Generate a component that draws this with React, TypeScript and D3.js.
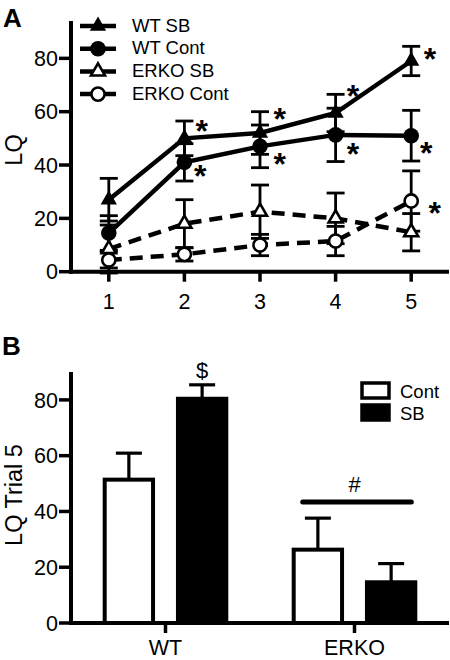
import React from "react";
import * as d3 from "d3";

// ---------- Panel A data ----------
const trials = [1, 2, 3, 4, 5];
const wtSB = [27, 50, 52, 59.5, 79];
const wtSBErr = [8, 6.5, 8, 7, 5.5];
const wtCont = [14.5, 41, 47, 51.3, 51];
const wtContErr = [6.5, 7, 8, 10, 9.5];
const erkoSB = [8.5, 18, 22.5, 20, 14.8];
const erkoSBErr = [9, 9, 10, 9.5, 7];
const erkoCont = [4.4, 6.5, 10, 11.5, 26.5];
const erkoContErr = [3, 2.5, 4, 5.5, 11.3];
const yTicksA = [0, 20, 40, 60, 80];
const legendA = ["WT SB", "WT Cont", "ERKO SB", "ERKO Cont"];
// asterisk annotation positions [trial, LQ]
const asterisks: [number, number][] = [
  [2.23, 55], [2.21, 38.1], [3.26, 59.4], [3.26, 42.5], [4.23, 68.1],
  [4.23, 46.3], [5.25, 81.9], [5.2, 46.9], [5.31, 24.4],
];

// ---------- Panel B data ----------
const groupsB = ["WT", "ERKO"];
const treatB = ["Cont", "SB"];
const contB = [51.4, 26.3];
const contBErr = [9.5, 11.3];
const sbB = [80.4, 14.6];
const sbBErr = [5, 6.7];
const yTicksB = [0, 20, 40, 60, 80];

const FONT = "'Liberation Sans', Arial, Helvetica, sans-serif";
const TICK_FS = 21.5;
const TITLE_FS = 23.5;

type Series = {
  name: string;
  vals: number[];
  errs: number[];
  shape: "tri" | "circ";
  filled: boolean;
  dashed: boolean;
};

const series: Series[] = [
  { name: legendA[2], vals: erkoSB, errs: erkoSBErr, shape: "tri", filled: false, dashed: true },
  { name: legendA[3], vals: erkoCont, errs: erkoContErr, shape: "circ", filled: false, dashed: true },
  { name: legendA[1], vals: wtCont, errs: wtContErr, shape: "circ", filled: true, dashed: false },
  { name: legendA[0], vals: wtSB, errs: wtSBErr, shape: "tri", filled: true, dashed: false },
];
const legendOrder = [3, 2, 0, 1];

function Marker({ x, y, s }: { x: number; y: number; s: Series }) {
  if (s.shape === "circ") {
    return s.filled ? (
      <circle cx={x} cy={y} r={7.8} fill="#000" />
    ) : (
      <circle cx={x} cy={y} r={6.6} fill="#fff" stroke="#000" strokeWidth={2.6} />
    );
  }
  const p = s.filled
    ? d3.symbol(d3.symbolTriangle, 115)()
    : d3.symbol(d3.symbolTriangle, 85)();
  return s.filled ? (
    <path d={p || ""} transform={`translate(${x},${y})`} fill="#000" />
  ) : (
    <path d={p || ""} transform={`translate(${x},${y})`} fill="#fff" stroke="#000" strokeWidth={2.6} strokeLinejoin="miter" />
  );
}

export default function App() {
  // Panel A scales
  const xA = d3.scaleLinear().domain([0.5, 5.5]).range([71, 449]);
  const yA = d3.scaleLinear().domain([0, 94]).range([271.7, 21]);
  const line = d3
    .line<number>()
    .x((_, i) => xA(trials[i]))
    .y((d) => yA(d));

  // Panel B scales
  const xB = d3.scaleBand<string>().domain(groupsB).range([71, 449]).padding(0);
  const xSub = d3
    .scaleBand<string>()
    .domain(treatB)
    .range([0, xB.bandwidth()])
    .paddingInner(0.34)
    .paddingOuter(0.46);
  const yB = d3.scaleLinear().domain([0, 90]).range([623, 372]);

  const capA = 9;
  const capB = 13;

  return (
    <svg
      width={450}
      height={660}
      style={{ position: "absolute", left: 0, top: 0, background: "#fff" }}
      fontFamily={FONT}
    >
      <rect x={0} y={0} width={450} height={660} fill="#fff" />
      {/* ================= Panel A ================= */}
      <text x={3} y={27} fontSize={26} fontWeight="bold">A</text>
      <text transform="translate(21.5,150) rotate(-90)" textAnchor="middle" fontSize={TITLE_FS}>LQ</text>

      {/* axes */}
      <line x1={71} x2={71} y1={yA(94)} y2={yA(0) + 2} stroke="#000" strokeWidth={4} />
      <line x1={69} x2={449} y1={yA(0)} y2={yA(0)} stroke="#000" strokeWidth={4} />
      {yTicksA.map((t) => (
        <g key={t}>
          <line x1={59} x2={71} y1={yA(t)} y2={yA(t)} stroke="#000" strokeWidth={3.5} />
          <text x={58} y={yA(t)} dy="0.36em" textAnchor="end" fontSize={TICK_FS}>{t}</text>
        </g>
      ))}
      {trials.map((t) => (
        <g key={t}>
          <line x1={xA(t)} x2={xA(t)} y1={yA(0)} y2={yA(0) + 10} stroke="#000" strokeWidth={3.5} />
          <text x={xA(t)} y={308.5} textAnchor="middle" fontSize={TICK_FS}>{t}</text>
        </g>
      ))}

      {/* error bars */}
      {series.map((s) =>
        s.vals.map((v, i) => {
          const x = xA(trials[i]);
          return (
            <g key={s.name + i} stroke="#000" strokeWidth={2.8}>
              <line x1={x} x2={x} y1={yA(v - s.errs[i])} y2={yA(v + s.errs[i])} />
              <line x1={x - capA} x2={x + capA} y1={yA(v + s.errs[i])} y2={yA(v + s.errs[i])} />
              <line x1={x - capA} x2={x + capA} y1={yA(v - s.errs[i])} y2={yA(v - s.errs[i])} />
            </g>
          );
        })
      )}

      {/* lines */}
      {series.map((s) => (
        <path
          key={s.name}
          d={line(s.vals) || ""}
          fill="none"
          stroke="#000"
          strokeWidth={4.5}
          strokeDasharray={s.dashed ? "13,8" : undefined}
        />
      ))}

      {/* markers */}
      {series.map((s) =>
        s.vals.map((v, i) => <Marker key={s.name + "m" + i} x={xA(trials[i])} y={yA(v)} s={s} />)
      )}

      {/* asterisks */}
      {asterisks.map(([t, v], i) => (
        <text key={i} x={xA(t)} y={yA(v) + 17} textAnchor="middle" fontSize={32} fontWeight="bold">*</text>
      ))}

      {/* legend A */}
      {legendOrder.map((si, r) => {
        const s = series[si];
        const cy = 26 + r * 22.7;
        return (
          <g key={s.name}>
            <line x1={80} x2={116} y1={cy} y2={cy} stroke="#000" strokeWidth={4.5} />
            <Marker x={98} y={cy} s={s} />
            <text x={132} y={cy - 1} dy="0.36em" fontSize={18.5}>{s.name}</text>
          </g>
        );
      })}

      {/* ================= Panel B ================= */}
      <text x={2} y={355} fontSize={26} fontWeight="bold">B</text>
      <text transform="translate(21.5,495) rotate(-90)" textAnchor="middle" fontSize={TITLE_FS}>LQ Trial 5</text>

      {/* bars */}
      {groupsB.map((g, gi) => {
        const g0 = xB(g) || 0;
        const items = [
          { k: treatB[0], v: contB[gi], e: contBErr[gi], fill: "#fff" },
          { k: treatB[1], v: sbB[gi], e: sbBErr[gi], fill: "#000" },
        ];
        return (
          <g key={g}>
            {items.map((it) => {
              const x0 = g0 + (xSub(it.k) || 0);
              const w = xSub.bandwidth();
              const cx = x0 + w / 2;
              return (
                <g key={it.k}>
                  <line x1={cx} x2={cx} y1={yB(it.v)} y2={yB(it.v + it.e)} stroke="#000" strokeWidth={3.2} />
                  <line x1={cx - capB} x2={cx + capB} y1={yB(it.v + it.e)} y2={yB(it.v + it.e)} stroke="#000" strokeWidth={3.2} />
                  <rect x={x0} y={yB(it.v)} width={w} height={yB(0) - yB(it.v)} fill={it.fill} stroke="#000" strokeWidth={4} />
                </g>
              );
            })}
          </g>
        );
      })}

      {/* axes B */}
      <line x1={71} x2={71} y1={yB(90)} y2={yB(0) + 2} stroke="#000" strokeWidth={4} />
      <line x1={69} x2={449} y1={yB(0)} y2={yB(0)} stroke="#000" strokeWidth={4} />
      {yTicksB.map((t) => (
        <g key={t}>
          <line x1={59} x2={71} y1={yB(t)} y2={yB(t)} stroke="#000" strokeWidth={3.5} />
          <text x={58} y={yB(t)} dy="0.36em" textAnchor="end" fontSize={TICK_FS}>{t}</text>
        </g>
      ))}
      {groupsB.map((g) => {
        const cx = (xB(g) || 0) + xB.bandwidth() / 2;
        return (
          <g key={g}>
            <line x1={cx} x2={cx} y1={yB(0)} y2={yB(0) + 10} stroke="#000" strokeWidth={3.5} />
            <text x={cx} y={655} textAnchor="middle" fontSize={21.5}>{g}</text>
          </g>
        );
      })}

      {/* annotations B */}
      <text x={(xB("WT") || 0) + (xSub("SB") || 0) + xSub.bandwidth() / 2} y={yB(sbB[0] + sbBErr[0]) - 7} textAnchor="middle" fontSize={22}>$</text>
      <line
        x1={(xB("ERKO") || 0) + (xSub("Cont") || 0) + 9}
        x2={(xB("ERKO") || 0) + (xSub("SB") || 0) + xSub.bandwidth() + -4}
        y1={502}
        y2={502}
        stroke="#000"
        strokeWidth={5}
        strokeLinecap="round"
      />
      <text x={(xB("ERKO") || 0) + xB.bandwidth() / 2} y={492} textAnchor="middle" fontSize={22}>#</text>

      {/* legend B */}
      {treatB.map((t, i) => (
        <g key={t}>
          <rect x={362} y={383 + i * 22} width={27} height={15} fill={i === 0 ? "#fff" : "#000"} stroke="#000" strokeWidth={3.5} />
          <text x={400} y={391 + i * 22} dy="0.36em" fontSize={18.5}>{t}</text>
        </g>
      ))}
    </svg>
  );
}
